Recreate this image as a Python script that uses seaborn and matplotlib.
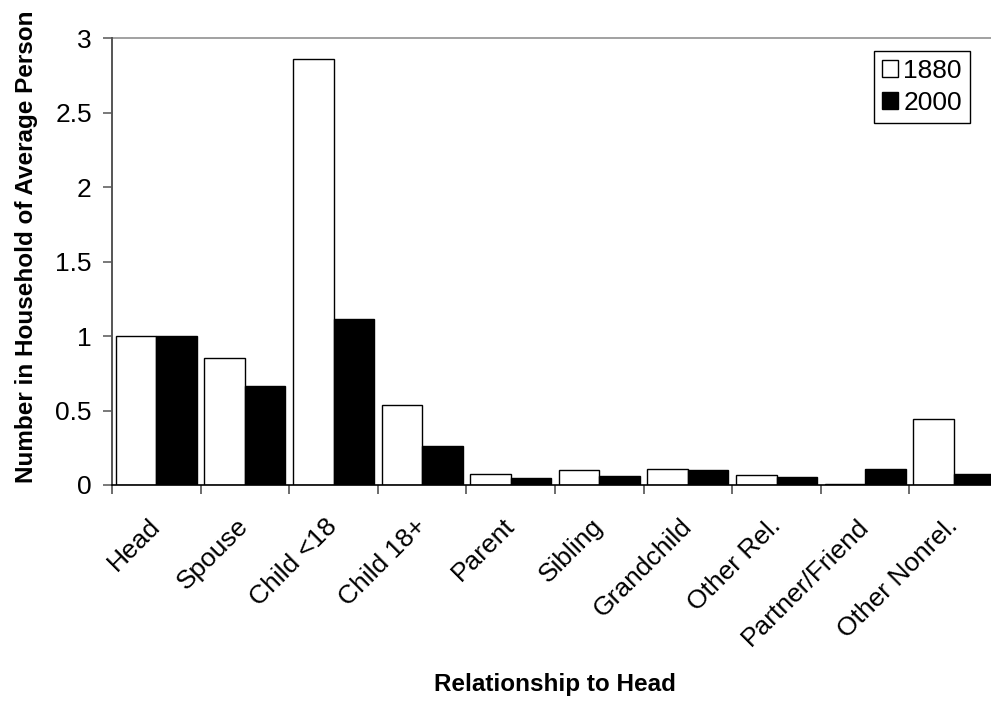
import matplotlib
matplotlib.use("Agg")
import matplotlib.pyplot as plt
import seaborn as sns
import pandas as pd
import numpy as np
from matplotlib.patches import Patch

categories = ["Head", "Spouse", "Child <18", "Child 18+", "Parent", "Sibling",
              "Grandchild", "Other Rel.", "Partner/Friend", "Other Nonrel."]
values_1880 = [1.0, 0.855, 2.86, 0.537, 0.074, 0.103, 0.109, 0.069, 0.005, 0.443]
values_2000 = [1.0, 0.667, 1.116, 0.259, 0.047, 0.062, 0.103, 0.054, 0.109, 0.074]
years = ["1880", "2000"]
y_ticks = [0, 0.5, 1, 1.5, 2, 2.5, 3]
y_tick_labels = ["0", "0.5", "1", "1.5", "2", "2.5", "3"]

df = pd.DataFrame({
    "Relationship": categories * 2,
    "Year": [years[0]] * len(categories) + [years[1]] * len(categories),
    "Value": values_1880 + values_2000,
})

sns.set_theme(style="white")
plt.rcParams["font.family"] = ["Liberation Sans", "DejaVu Sans"]
plt.rcParams.update({"text.color": "black", "axes.labelcolor": "black",
                     "xtick.color": "black", "ytick.color": "black"})

W, H = 991, 704
fig = plt.figure(figsize=(W / 100, H / 100), dpi=100)
# plot area runs slightly past the right edge of the canvas
ax = fig.add_axes([112 / W, 1 - 485 / H, (998 - 112) / W, (485 - 38) / H])

sns.barplot(data=df, x="Relationship", y="Value", hue="Year",
            palette={"1880": "white", "2000": "black"},
            edgecolor="black", linewidth=1.0, width=0.915,
            order=categories, hue_order=years, ax=ax, legend=False)

ax.set_xlim(-0.5, len(categories) - 0.5)
ax.set_ylim(0, 3)
ax.axhline(3, color="#9a9a9a", lw=1.3, zorder=0, clip_on=False)

ax.set_yticks(y_ticks)
ax.set_yticklabels(y_tick_labels, fontsize=19)
ax.tick_params(axis="y", which="major", left=True, length=6.5, width=1.1,
               color="#555555", labelcolor="black", direction="out", pad=8)

ax.set_xticks(range(len(categories)))
ax.set_xticklabels(categories, rotation=45, ha="right", va="center",
                   rotation_mode="anchor", fontsize=19)
ax.tick_params(axis="x", which="major", length=0, pad=27, labelcolor="black")
ax.set_xticks(np.arange(-0.5, len(categories), 1.0), minor=True)
ax.tick_params(axis="x", which="minor", bottom=True, length=6.5, width=1.1,
               color="#444444", direction="out")

for side in ["top", "right"]:
    ax.spines[side].set_visible(False)
ax.spines["left"].set_color("#555555")
ax.spines["left"].set_linewidth(1.4)
ax.spines["bottom"].set_color("black")
ax.spines["bottom"].set_linewidth(1.2)

ax.set_xlabel("Relationship to Head", fontsize=17.5, fontweight="bold")
ax.xaxis.set_label_coords(0.5, (485 - 673) / (485 - 38))
ax.set_ylabel("Number in Household of Average Person", fontsize=17.5,
              fontweight="bold")
ax.yaxis.set_label_coords((38 - 112) / (998 - 112), (485 - 247) / (485 - 38))

handles = [Patch(facecolor="white", edgecolor="black", lw=1.0),
           Patch(facecolor="black", edgecolor="black", lw=1.0)]
leg = fig.legend(handles, years, loc="upper right",
                 bbox_to_anchor=(970 / W, 1 - 51 / H),
                 fontsize=19, frameon=True, fancybox=False, framealpha=1,
                 handlelength=0.6, handleheight=0.6, handletextpad=0.2,
                 borderpad=0.3, labelspacing=0.3, borderaxespad=0)
leg.get_frame().set_edgecolor("black")
leg.get_frame().set_linewidth(1.0)

fig.savefig("out.png", dpi=100)
